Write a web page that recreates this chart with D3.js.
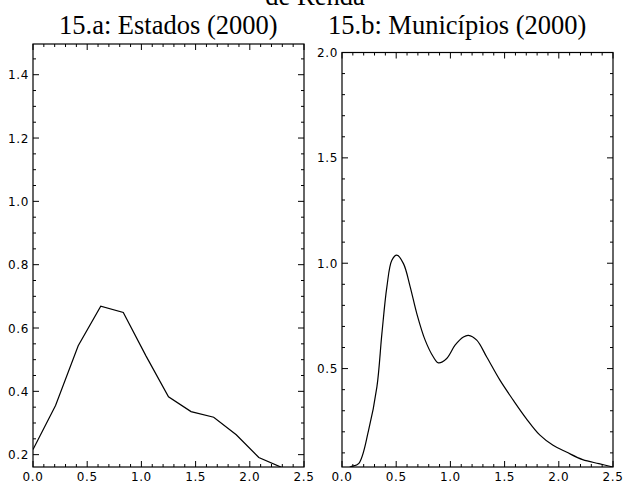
<!DOCTYPE html>
<html>
<head>
<meta charset="utf-8">
<script src="https://cdn.jsdelivr.net/npm/d3@7"></script>
<style>
  body { margin: 0; background: #fff; }
  svg { display: block; }
</style>
</head>
<body>
<div id="chart"></div>
<script>
// painel a: estados (polígono de frequência)
var estadosX = [0.0, 0.208, 0.417, 0.625, 0.833, 1.042, 1.25, 1.458, 1.667, 1.875, 2.083, 2.292];
var estadosY = [0.216, 0.355, 0.544, 0.669, 0.649, 0.512, 0.383, 0.336, 0.318, 0.263, 0.191, 0.16];

// painel b: municípios (densidade kernel)
var municX = [0.0, 0.076, 0.153, 0.245, 0.322, 0.368, 0.414, 0.46, 0.506, 0.567, 0.629, 0.69, 0.767, 0.843, 0.889, 0.966, 1.043, 1.12, 1.166, 1.243, 1.335, 1.457, 1.58, 1.70, 1.826, 1.947, 2.07, 2.22, 2.37, 2.5];
var municY = [0.0, 0.033, 0.049, 0.207, 0.413, 0.666, 0.888, 1.014, 1.038, 0.998, 0.888, 0.761, 0.635, 0.555, 0.527, 0.548, 0.611, 0.650, 0.658, 0.635, 0.555, 0.445, 0.35, 0.263, 0.184, 0.136, 0.104, 0.068, 0.049, 0.033];

var ticksA = [0.2, 0.4, 0.6, 0.8, 1.0, 1.2, 1.4];
var ticksB = [0.5, 1.0, 1.5, 2.0];
var ticksX = [0.0, 0.5, 1.0, 1.5, 2.0, 2.5];

var W = 623, H = 483;
var svg = d3.select("#chart").append("svg").attr("width", W).attr("height", H);

var serif = "Liberation Serif, Times New Roman, serif";

// título geral (cortado no topo, como no original)
svg.append("text").attr("x", 315).attr("y", 5)
  .attr("text-anchor", "middle")
  .style("font-family", serif).style("font-size", "26.5px")
  .text("de Renda");

function painel(cfg){
  var x = d3.scaleLinear().domain([0, 2.5]).range([cfg.x0, cfg.x1]);
  var y = d3.scaleLinear().domain(cfg.ydom).range([cfg.y1, cfg.y0]);
  var g = svg.append("g");

  svg.append("text").attr("x", cfg.tx).attr("y", 34)
    .style("font-family", serif).style("font-size", "26.5px")
    .text(cfg.titulo);

  // ticks internos nos quatro lados
  var xMinor = d3.range(0, 2.5001, 0.1);
  var yMinor = d3.range(Math.ceil(cfg.ydom[0] / cfg.ystep - 1e-6) * cfg.ystep, cfg.ydom[1] + 1e-6, cfg.ystep);
  function isMajor(v, arr){ return arr.some(function(t){ return Math.abs(t - v) < 1e-6; }); }

  xMinor.forEach(function(v){
    var L = isMajor(v, ticksX) ? 6 : 3;
    g.append("line").attr("x1", x(v)).attr("x2", x(v)).attr("y1", cfg.y1).attr("y2", cfg.y1 - L).attr("stroke", "#000");
    g.append("line").attr("x1", x(v)).attr("x2", x(v)).attr("y1", cfg.y0).attr("y2", cfg.y0 + L).attr("stroke", "#000");
  });
  yMinor.forEach(function(v){
    var L = isMajor(v, cfg.yticks) ? 6 : 3;
    g.append("line").attr("y1", y(v)).attr("y2", y(v)).attr("x1", cfg.x0).attr("x2", cfg.x0 + L).attr("stroke", "#000");
    g.append("line").attr("y1", y(v)).attr("y2", y(v)).attr("x1", cfg.x1).attr("x2", cfg.x1 - L).attr("stroke", "#000");
  });

  g.append("rect").attr("x", cfg.x0).attr("y", cfg.y0)
    .attr("width", cfg.x1 - cfg.x0).attr("height", cfg.y1 - cfg.y0)
    .attr("fill", "none").attr("stroke", "#000").attr("stroke-width", 1.2);

  function rotulo(sel){
    sel.style("font-family", "DejaVu Sans, sans-serif").style("font-size", "12px").style("letter-spacing", "0.6px");
  }
  ticksX.forEach(function(v){
    g.append("text").attr("x", x(v)).attr("y", 481).attr("text-anchor", "middle")
      .call(rotulo).text(d3.format(".1f")(v));
  });
  cfg.yticks.forEach(function(v){
    g.append("text").attr("x", cfg.x0 - 4).attr("y", y(v) + 4.5).attr("text-anchor", "end")
      .call(rotulo).text(d3.format(".1f")(v));
  });

  var clipId = "clip" + cfg.id;
  svg.append("clipPath").attr("id", clipId).append("rect")
    .attr("x", cfg.x0).attr("y", cfg.y0).attr("width", cfg.x1 - cfg.x0).attr("height", cfg.y1 - cfg.y0);

  var pts = cfg.xs.map(function(d, i){ return [d, cfg.ys[i]]; });
  var line = d3.line().x(function(d){ return x(d[0]); }).y(function(d){ return y(d[1]); }).curve(cfg.curva);
  g.append("path").datum(pts).attr("d", line).attr("clip-path", "url(#" + clipId + ")")
    .attr("fill", "none").attr("stroke", "#000").attr("stroke-width", 1.2);
}

painel({ id: "a", titulo: "15.a: Estados (2000)", tx: 59, x0: 33, x1: 304, y0: 44, y1: 467,
  ydom: [0.161, 1.497], ystep: 0.05, yticks: ticksA,
  xs: estadosX, ys: estadosY, curva: d3.curveLinear });

painel({ id: "b", titulo: "15.b: Municípios (2000)", tx: 328, x0: 342, x1: 613, y0: 52.5, y1: 467,
  ydom: [0.033, 2.0], ystep: 0.1, yticks: ticksB,
  xs: municX, ys: municY, curva: d3.curveCatmullRom.alpha(0.5) });
</script>
</body>
</html>
